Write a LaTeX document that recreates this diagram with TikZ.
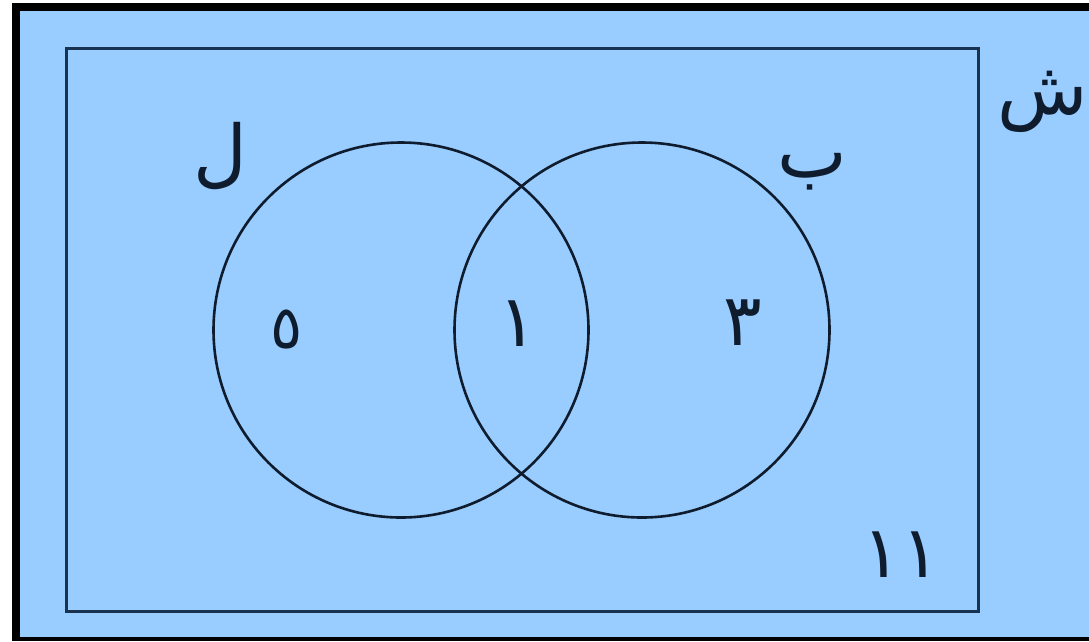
\documentclass[tikz,border=0pt]{standalone}
\usepackage{fontspec}
\newfontfamily\arabicfont[Script=Arabic]{DejaVu Sans}
\TeXXeTstate=1
\definecolor{bgblue}{RGB}{153,204,255}
\definecolor{ink}{RGB}{15,28,45}
\definecolor{frameink}{RGB}{25,50,80}
\begin{document}
\begin{tikzpicture}[x=1pt,y=-1pt,
  setcircle/.style={circle,draw=ink,line width=2.6pt,minimum size=375pt,inner sep=0pt},
  lbl/.style={text=ink,font=\arabicfont\fontsize{74}{80}\selectfont,inner sep=0pt},
  num/.style={text=ink,font=\arabicfont\fontsize{72}{78}\selectfont,inner sep=0pt}]
\useasboundingbox (0,0) rectangle (1089,641);
\fill[white] (0,0) rectangle (1089,641);
\fill[black] (12,3) rectangle (1089,641);
\fill[bgblue] (20,11) rectangle (1089,637);
\node[draw=frameink,line width=3pt,minimum width=912pt,minimum height=563pt,inner sep=0pt] (U) at (522,330) {};
\node[setcircle] (L) at (401,330) {};
\node[setcircle] (B) at (642,330) {};
\node[lbl] (tL) at (220,156) {\beginR ل\endR};
\node[lbl] (tB) at (812,172) {\beginR ب\endR};
\node[lbl] (tS) at (1043,102) {\beginR ش\endR};
\node[num,font=\arabicfont\fontsize{60}{66}\selectfont] (n5) at (287,329) {\beginR ٥\endR};
\node[num] (n1) at (518,324) {\beginR ١\endR};
\node[num] (n3) at (743,323) {\beginR ٣\endR};
\node[num] (n11) at (901,555) {\beginR ١١\endR};
\end{tikzpicture}
\end{document}
